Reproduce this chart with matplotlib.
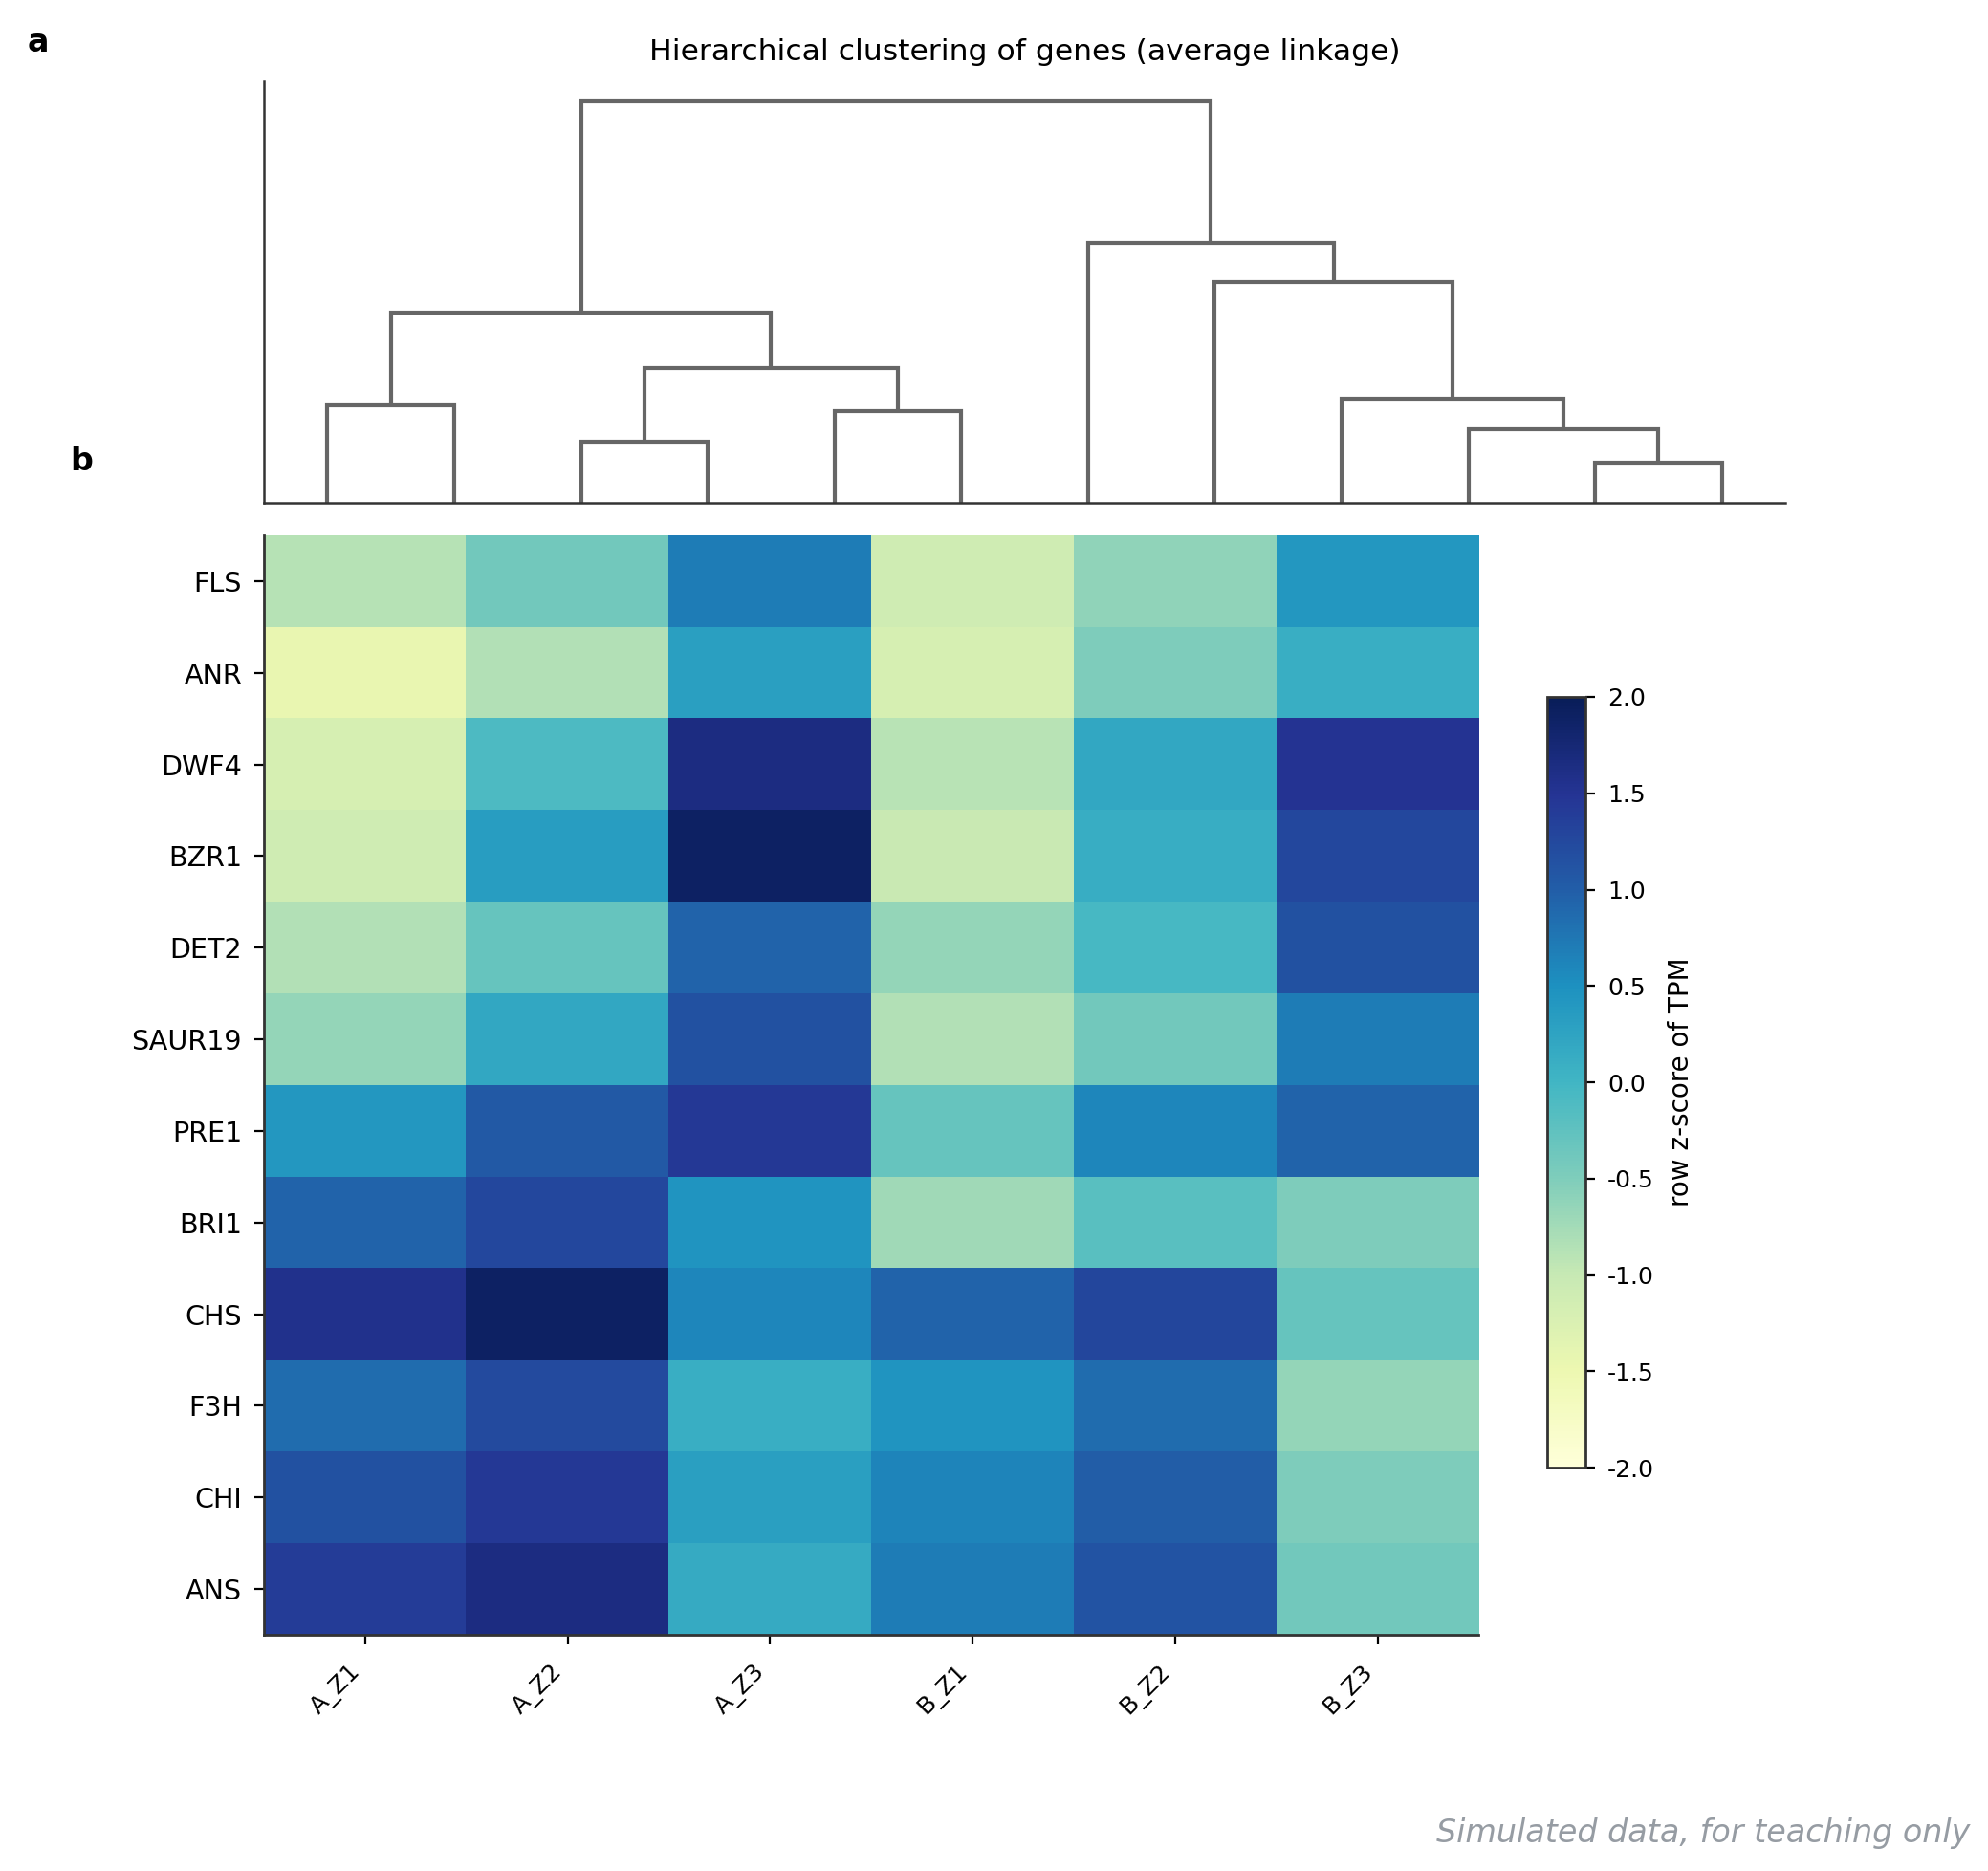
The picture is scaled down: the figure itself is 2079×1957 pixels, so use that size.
import numpy as np
import matplotlib
matplotlib.use("Agg")
import matplotlib.pyplot as plt
from matplotlib.colors import Normalize

# ---------------- data ----------------
genes = ["FLS", "ANR", "DWF4", "BZR1", "DET2", "SAUR19", "PRE1", "BRI1",
         "CHS", "F3H", "CHI", "ANS"]
samples = ["A_Z1", "A_Z2", "A_Z3", "B_Z1", "B_Z2", "B_Z3"]

z_FLS    = [-0.89, -0.40, 0.70, -1.10, -0.62, 0.42]
z_ANR    = [-1.45, -0.85, 0.30, -1.20, -0.50, 0.10]
z_DWF4   = [-1.20, -0.10, 1.65, -0.90, 0.20, 1.50]
z_BZR1   = [-1.10, 0.33, 1.90, -1.03, 0.12, 1.25]
z_DET2   = [-0.85, -0.30, 0.95, -0.65, -0.05, 1.15]
z_SAUR19 = [-0.65, 0.20, 1.15, -0.85, -0.40, 0.70]
z_PRE1   = [0.42, 1.05, 1.45, -0.30, 0.60, 0.95]
z_BRI1   = [0.95, 1.25, 0.45, -0.72, -0.20, -0.50]
z_CHS    = [1.55, 1.90, 0.60, 0.95, 1.28, -0.30]
z_F3H    = [0.85, 1.22, 0.10, 0.45, 0.85, -0.65]
z_CHI    = [1.15, 1.45, 0.30, 0.62, 1.00, -0.50]
z_ANS    = [1.40, 1.65, 0.15, 0.70, 1.12, -0.40]

# dendrogram: (left child, right child, merge height); leaves are 0..11,
# merged nodes numbered 12, 13, ...
merge_left   = [0, 2, 4, 13, 12, 10, 9, 8, 7, 6, 16]
merge_right  = [1, 3, 5, 14, 15, 11, 17, 18, 19, 20, 21]
merge_height = [0.767, 0.478, 0.725, 1.058, 1.497, 0.319, 0.577, 0.820,
                1.738, 2.050, 3.160]
n_leaves = 12

# ---------------- figure ----------------
plt.rcParams['font.family'] = ['DejaVu Sans']
fig = plt.figure(figsize=(2079 / 200, 1957 / 200), dpi=200)

line_col = "#666666"
spine_col = "#333333"

# dendrogram axes
axd = fig.add_axes([0.1328, 0.7312, 0.7652, 0.2254])
xpos = {i: 10 * i + 5 for i in range(n_leaves)}
ypos = {i: 0.0 for i in range(n_leaves)}
for k, (a, b, h) in enumerate(zip(merge_left, merge_right, merge_height)):
    node = n_leaves + k
    xa, xb = xpos[a], xpos[b]
    axd.plot([xa, xa, xb, xb], [ypos[a], h, h, ypos[b]],
             color=line_col, lw=1.5, solid_capstyle='butt', solid_joinstyle='miter')
    xpos[node] = (xa + xb) / 2
    ypos[node] = h
axd.set_xlim(0, 10 * n_leaves)
axd.set_ylim(0, max(merge_height) * 1.05)
axd.set_xticks([])
axd.set_yticks([])
for s in ["top", "right"]:
    axd.spines[s].set_visible(False)
for s in ["left", "bottom"]:
    axd.spines[s].set_color(spine_col)
    axd.spines[s].set_linewidth(0.9)
axd.set_title("Hierarchical clustering of genes (average linkage)",
              fontsize=11.3, pad=8)

# heatmap axes
data = np.array([z_FLS, z_ANR, z_DWF4, z_BZR1, z_DET2, z_SAUR19, z_PRE1,
                 z_BRI1, z_CHS, z_F3H, z_CHI, z_ANS])
axh = fig.add_axes([0.1328, 0.1262, 0.6110, 0.5876])
norm = Normalize(vmin=-2, vmax=2)
im = axh.imshow(data, cmap="YlGnBu", norm=norm, aspect="auto",
                interpolation="nearest")
axh.set_yticks(range(len(genes)))
axh.set_yticklabels(genes, fontsize=10.3)
axh.set_xticks(range(len(samples)))
axh.set_xticklabels(samples, fontsize=9, rotation=45, ha="right")
for s in ["top", "right"]:
    axh.spines[s].set_visible(False)
for s in ["left", "bottom"]:
    axh.spines[s].set_color(spine_col)
    axh.spines[s].set_linewidth(1.0)
axh.tick_params(colors="black", length=3.5, width=0.8)
axh.tick_params(axis="y", pad=4.8)
axh.tick_params(axis="x", pad=6)

# colorbar
cax = fig.add_axes([0.7783, 0.2156, 0.0192, 0.4119])
cb = fig.colorbar(im, cax=cax, ticks=np.arange(-2, 2.01, 0.5))
cb.ax.set_yticklabels([f"{t:.1f}" for t in np.arange(-2, 2.01, 0.5)], fontsize=9)
cb.ax.tick_params(length=3.5, width=0.8, pad=4.8)
cb.outline.set_edgecolor(spine_col)
cb.outline.set_linewidth(1.0)
cb.set_label("row z-score of TPM", fontsize=10, labelpad=5)

# panel labels and footer
fig.text(0.0192, 0.9775, "a", fontsize=12, fontweight="bold", ha="center", va="center")
fig.text(0.041, 0.7534, "b", fontsize=12, fontweight="bold", ha="center", va="center")
fig.text(0.991, 0.0204, "Simulated data, for teaching only", fontsize=12,
         style="italic", color="#969ca3", ha="right", va="center")

fig.savefig("out.png", dpi=200)
